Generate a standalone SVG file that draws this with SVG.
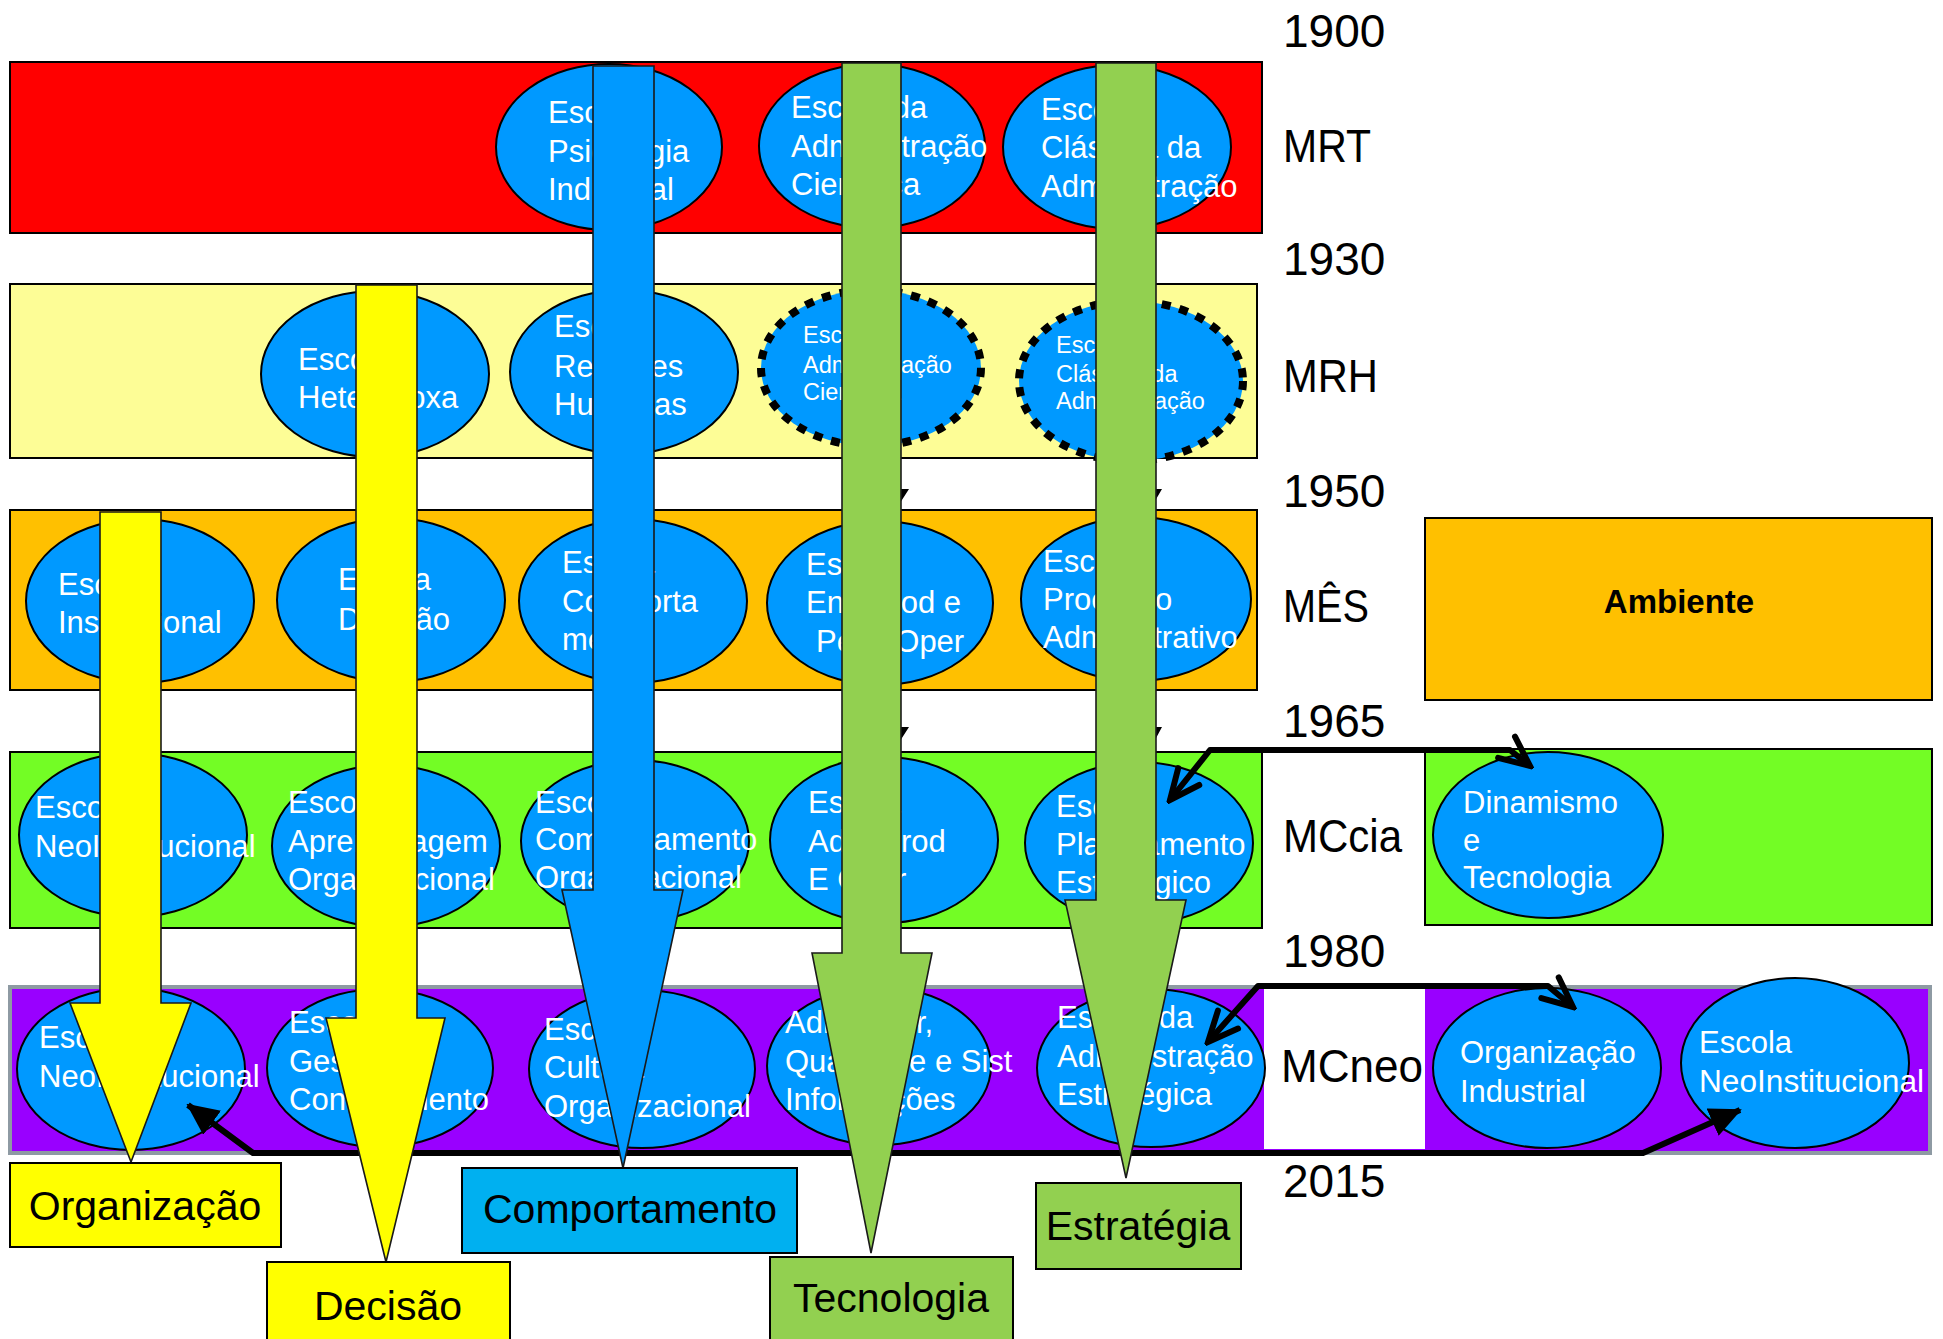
<svg xmlns="http://www.w3.org/2000/svg" width="1943" height="1339" viewBox="0 0 1943 1339">
<defs>
<style>
.band{stroke:#000;stroke-width:2}
.el{fill:#0099FF;stroke:#000;stroke-width:2}
.dot{fill:#0099FF;stroke:#000;stroke-width:8;stroke-dasharray:9 9}
.et{font-family:"Liberation Sans",Arial,sans-serif;font-size:31px;fill:#fff}
.es{font-size:23.5px}
.lbl{font-family:"Liberation Sans",Arial,sans-serif;font-size:46px;fill:#000}
.bt{font-family:"Liberation Sans",Arial,sans-serif;font-size:41px;fill:#000;text-anchor:middle}
.arw{stroke:#1a1a1a;stroke-width:1.6;stroke-linejoin:miter}
.box{stroke:#000;stroke-width:2}
.con{fill:none;stroke:#000;stroke-width:6;stroke-linejoin:round}
</style>
<marker id="open" viewBox="-4 -2 38 34" markerWidth="38" markerHeight="34" refX="30" refY="15" orient="auto-start-reverse" markerUnits="userSpaceOnUse">
<path d="M0,1.5 L30,15 L0,28.5" fill="none" stroke="#000" stroke-width="6" stroke-linecap="round" stroke-linejoin="miter"/>
</marker>
<marker id="solid" viewBox="0 0 32 30" markerWidth="32" markerHeight="30" refX="30" refY="15" orient="auto-start-reverse" markerUnits="userSpaceOnUse">
<path d="M0,0 L32,15 L0,30 Z" fill="#000"/>
</marker>
</defs>
<rect width="1943" height="1339" fill="#fff"/>

<g id="bands">
<rect id="band-MRT" class="band" x="10" y="62" width="1252" height="171" fill="#FF0000"/>
<rect id="band-MRH" class="band" x="10" y="284" width="1247" height="174" fill="#FDFD96"/>
<rect id="band-MES" class="band" x="10" y="510" width="1247" height="180" fill="#FFC000"/>
<rect id="band-MCcia" class="band" x="10" y="752" width="1252" height="176" fill="#73FD25"/>
<rect id="band-MCneo" x="10" y="987" width="1920" height="166" fill="#9900FF" stroke="#8e9aa3" stroke-width="4"/>
<rect x="1264" y="989" width="161" height="160" fill="#fff"/>
<rect id="band-Ambiente" class="band" x="1425" y="518" width="507" height="182" fill="#FFC000"/>
<rect id="band-Dinamismo" class="band" x="1425" y="749" width="507" height="176" fill="#73FD25"/>
</g>

<g id="labels">
<text class="lbl" x="1283" y="47">1900</text>
<text class="lbl" x="1283" y="162" textLength="88" lengthAdjust="spacingAndGlyphs">MRT</text>
<text class="lbl" x="1283" y="275">1930</text>
<text class="lbl" x="1283" y="392" textLength="95" lengthAdjust="spacingAndGlyphs">MRH</text>
<text class="lbl" x="1283" y="507">1950</text>
<text class="lbl" x="1283" y="622" textLength="86" lengthAdjust="spacingAndGlyphs">MÊS</text>
<text class="lbl" x="1283" y="737">1965</text>
<text class="lbl" x="1283" y="852" textLength="119" lengthAdjust="spacingAndGlyphs">MCcia</text>
<text class="lbl" x="1283" y="967">1980</text>
<text class="lbl" x="1281" y="1082" textLength="142" lengthAdjust="spacingAndGlyphs">MCneo</text>
<text class="lbl" x="1283" y="1197">2015</text>
<text x="1679" y="613" font-family="Liberation Sans, Arial, sans-serif" font-size="33" font-weight="bold" text-anchor="middle" fill="#000">Ambiente</text>
</g>

<g id="n-psicologia"><ellipse class="el" cx="609" cy="147" rx="113" ry="83"/>
<text class="et"><tspan x="548" y="123">Escola</tspan><tspan x="548" y="162">Psicologia</tspan><tspan x="548" y="200">Industrial</tspan></text></g>
<g id="n-adm-cientifica"><ellipse class="el" cx="872" cy="146" rx="113" ry="82"/>
<text class="et"><tspan x="791" y="118">Escola da</tspan><tspan x="791" y="157">Administração</tspan><tspan x="791" y="195">Científica</tspan></text></g>
<g id="n-classica"><ellipse class="el" cx="1117" cy="147" rx="114" ry="82"/>
<text class="et"><tspan x="1041" y="120">Escola</tspan><tspan x="1041" y="158">Clássica da</tspan><tspan x="1041" y="197">Administração</tspan></text></g>

<g id="n-heterodoxa"><ellipse class="el" cx="375" cy="374" rx="114" ry="83"/>
<text class="et"><tspan x="298" y="370">Escola</tspan><tspan x="298" y="408">Heterodoxa</tspan></text></g>
<g id="n-relacoes"><ellipse class="el" cx="624" cy="372" rx="114" ry="82"/>
<text class="et"><tspan x="554" y="337">Escola</tspan><tspan x="554" y="377">Relações</tspan><tspan x="554" y="415">Humanas</tspan></text></g>
<g id="n-adm-cientifica-2"><ellipse class="dot" cx="871" cy="368" rx="110" ry="78"/>
<text class="et es"><tspan x="803" y="343">Escola</tspan><tspan x="803" y="373">Administração</tspan><tspan x="803" y="400">Científica</tspan></text></g>
<g id="n-classica-2"><ellipse class="dot" cx="1131" cy="381" rx="112" ry="80"/>
<text class="et es"><tspan x="1056" y="353">Escola</tspan><tspan x="1056" y="382">Clássica da</tspan><tspan x="1056" y="409">Administração</tspan></text></g>

<g id="n-institucional"><ellipse class="el" cx="140" cy="601" rx="114" ry="82"/>
<text class="et"><tspan x="58" y="595">Escola</tspan><tspan x="58" y="633">Institucional</tspan></text></g>
<g id="n-decisao"><ellipse class="el" cx="391" cy="600" rx="114" ry="82"/>
<text class="et"><tspan x="338" y="590">Escola</tspan><tspan x="338" y="630">Decisão</tspan></text></g>
<g id="n-comportamental"><ellipse class="el" cx="633" cy="601" rx="114" ry="82"/>
<text class="et"><tspan x="562" y="573">Escola</tspan><tspan x="562" y="612">Comporta</tspan><tspan x="562" y="650">mental</tspan></text></g>
<g id="n-eng-prod"><ellipse class="el" cx="880" cy="603" rx="113" ry="82"/>
<text class="et"><tspan x="806" y="575">Escola</tspan><tspan x="806" y="613">Eng Prod e</tspan><tspan x="816" y="652">Pesq Oper</tspan></text></g>
<g id="n-processo"><ellipse class="el" cx="1136" cy="599" rx="115" ry="82"/>
<text class="et"><tspan x="1043" y="572">Escola</tspan><tspan x="1043" y="610">Processo</tspan><tspan x="1043" y="648">Administrativo</tspan></text></g>

<g id="n-neoinst-1"><ellipse class="el" cx="133" cy="835" rx="114" ry="82"/>
<text class="et"><tspan x="35" y="818">Escola</tspan><tspan x="35" y="857">NeoInstitucional</tspan></text></g>
<g id="n-aprendizagem"><ellipse class="el" cx="386" cy="846" rx="114" ry="81"/>
<text class="et"><tspan x="288" y="813">Escola</tspan><tspan x="288" y="852">Aprendizagem</tspan><tspan x="288" y="890">Organizacional</tspan></text></g>
<g id="n-comport-org"><ellipse class="el" cx="635" cy="841" rx="114" ry="81"/>
<text class="et"><tspan x="535" y="813">Escola</tspan><tspan x="535" y="850">Comportamento</tspan><tspan x="535" y="888">Organizacional</tspan></text></g>
<g id="n-adm-prod"><ellipse class="el" cx="884" cy="840" rx="114" ry="83"/>
<text class="et"><tspan x="808" y="813">Escola</tspan><tspan x="808" y="852">Adm Prod</tspan><tspan x="808" y="890">E Oper</tspan></text></g>
<g id="n-planejamento"><ellipse class="el" cx="1139" cy="843" rx="114" ry="81"/>
<text class="et"><tspan x="1056" y="817">Escola</tspan><tspan x="1056" y="855">Planejamento</tspan><tspan x="1056" y="893">Estratégico</tspan></text></g>
<g id="n-dinamismo"><ellipse class="el" cx="1548" cy="835" rx="115" ry="83"/>
<text class="et"><tspan x="1463" y="813">Dinamismo</tspan><tspan x="1463" y="851">e</tspan><tspan x="1463" y="888">Tecnologia</tspan></text></g>

<g id="n-neoinst-2"><ellipse class="el" cx="131" cy="1069" rx="114" ry="81"/>
<text class="et"><tspan x="39" y="1048">Escola</tspan><tspan x="39" y="1087">NeoInstitucional</tspan></text></g>
<g id="n-gestao"><ellipse class="el" cx="380" cy="1068" rx="113" ry="79"/>
<text class="et"><tspan x="289" y="1033">Escola</tspan><tspan x="289" y="1072">Gestão do</tspan><tspan x="289" y="1110">Conhecimento</tspan></text></g>
<g id="n-cultura"><ellipse class="el" cx="642" cy="1069" rx="113" ry="79"/>
<text class="et"><tspan x="544" y="1040">Escola</tspan><tspan x="544" y="1078">Cultura</tspan><tspan x="544" y="1117">Organizacional</tspan></text></g>
<g id="n-adm-oper"><ellipse class="el" cx="879" cy="1066" rx="112" ry="79"/>
<text class="et"><tspan x="785" y="1033">Adm Oper,</tspan><tspan x="785" y="1072">Qualidade e Sist</tspan><tspan x="785" y="1110">Informações</tspan></text></g>
<g id="n-adm-estrategica"><ellipse class="el" cx="1151" cy="1068" rx="114" ry="79"/>
<text class="et"><tspan x="1057" y="1028">Escola da</tspan><tspan x="1057" y="1067">Administração</tspan><tspan x="1057" y="1105">Estratégica</tspan></text></g>
<g id="n-org-industrial"><ellipse class="el" cx="1547" cy="1068" rx="114" ry="80"/>
<text class="et"><tspan x="1460" y="1063">Organização</tspan><tspan x="1460" y="1102">Industrial</tspan></text></g>
<g id="n-neoinst-3"><ellipse class="el" cx="1795" cy="1063" rx="114" ry="85"/>
<text class="et"><tspan x="1699" y="1053">Escola</tspan><tspan x="1699" y="1092" textLength="225" lengthAdjust="spacingAndGlyphs">NeoInstitucional</tspan></text></g>

<g id="connectors">
<path class="con" d="M188,1105 L253,1153 L1643,1153 L1740,1110" stroke-width="7" marker-start="url(#solid)" marker-end="url(#solid)"/>
<path class="con" d="M1170,800 L1210,750 L1510,750 L1530,766" marker-start="url(#open)" marker-end="url(#open)"/>
<path class="con" d="M1208,1042 L1258,986 L1548,986 L1573,1007" marker-start="url(#open)" marker-end="url(#open)"/>
<path d="M900,489 L909,489 L900,503 Z M1155,489 L1162,489 L1155,501 Z M900,727 L909,727 L900,741 Z M1155,727 L1162,727 L1155,740 Z" fill="#000"/>
</g>

<g id="arrow-organizacao"><polygon class="arw" fill="#FFFF00" points="100,512 161,512 161,1003 191,1003 131,1162 70,1003 100,1003"/></g>
<g id="arrow-decisao"><polygon class="arw" fill="#FFFF00" points="356,285 417,285 417,1018 445,1018 386,1262 326,1018 356,1018"/></g>
<g id="arrow-comportamento"><polygon class="arw" fill="#0099FF" points="593,66 654,66 654,890 683,890 623,1168 562,890 593,890"/></g>
<g id="arrow-tecnologia"><polygon class="arw" fill="#92D050" points="842,63 901,63 901,953 932,953 871,1253 812,953 842,953"/></g>
<g id="arrow-estrategia"><polygon class="arw" fill="#92D050" points="1096,63 1156,63 1156,900 1186,900 1126,1178 1065,900 1096,900"/></g>

<g id="box-organizacao"><rect class="box" x="10" y="1163" width="271" height="84" fill="#FFFF00"/><text class="bt" x="145" y="1220">Organização</text></g>
<g id="box-decisao"><rect class="box" x="267" y="1262" width="243" height="90" fill="#FFFF00"/><text class="bt" x="388" y="1320">Decisão</text></g>
<g id="box-comportamento"><rect class="box" x="462" y="1168" width="335" height="85" fill="#00B0F0"/><text class="bt" x="630" y="1223">Comportamento</text></g>
<g id="box-tecnologia"><rect class="box" x="770" y="1257" width="243" height="95" fill="#92D050"/><text class="bt" x="891" y="1312">Tecnologia</text></g>
<g id="box-estrategia"><rect class="box" x="1036" y="1183" width="205" height="86" fill="#92D050"/><text class="bt" x="1138" y="1240">Estratégia</text></g>
</svg>
